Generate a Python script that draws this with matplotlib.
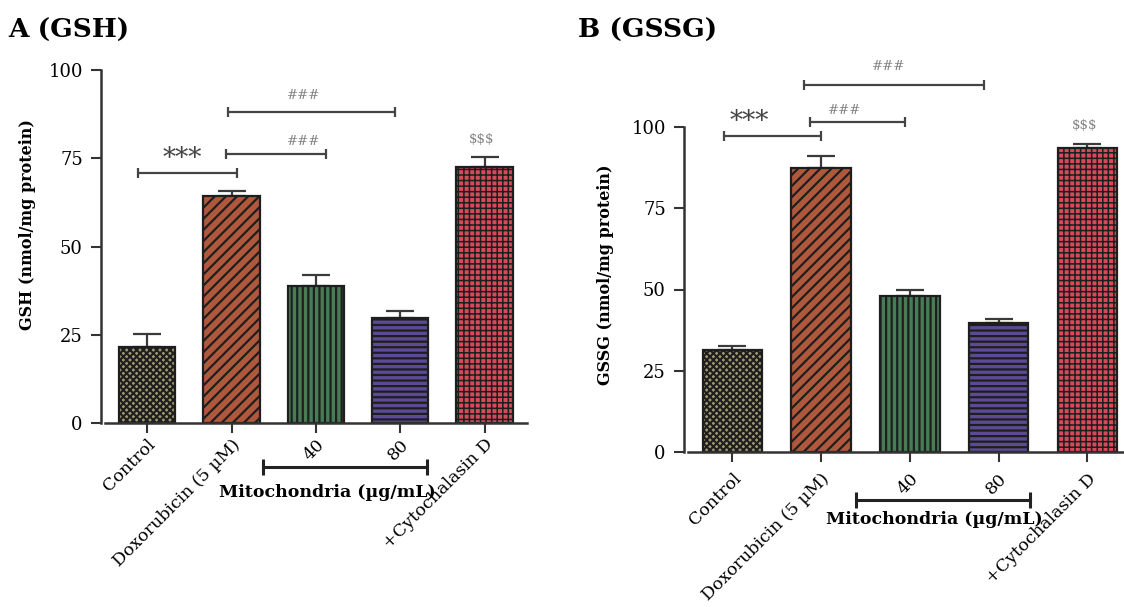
import numpy as np
import matplotlib
matplotlib.use("Agg")
import matplotlib.pyplot as plt
import matplotlib.transforms as mtransforms

plt.rcParams['font.family'] = ['DejaVu Serif']

# -------------------------------
# Data
# -------------------------------
groups = ["Control", "Doxorubicin (5 µM)", "40", "80", "+Cytochalasin D"]
gsh_mean = [21.7, 64.4, 38.9, 29.8, 72.5]
gsh_err = [3.5, 1.4, 3.0, 2.1, 2.8]
gssg_mean = [31.5, 87.4, 48.0, 39.7, 93.5]
gssg_err = [1.1, 3.6, 2.0, 1.3, 1.2]
yticks = [0, 25, 50, 75, 100]

bar_colors = ["#a09870", "#b0583c", "#467d55", "#5c4a94", "#d84a5a"]
hatches = ["xxxxx", "///", "|||", "---", "+++"]
hatch_lw = [1.5, 1.6, 1.6, 1.6, 1.1]
edge = "#1e1e1e"


def bracket(ax, x0, x1, y, cap=7):
    ax.plot([x0, x1], [y, y], color="#444444", lw=1.6, clip_on=False,
            solid_capstyle="butt")
    ax.plot([x0, x1], [y, y], ls="none", marker="|", ms=cap, mew=1.6,
            color="#444444", clip_on=False)


def draw_panel(ax, means, errs, xpad):
    x = np.arange(len(means))
    for i in range(len(means)):
        plt.rcParams['hatch.linewidth'] = hatch_lw[i]
        ax.bar(x[i], means[i], width=0.67, color=bar_colors[i],
               edgecolor=edge, hatch=hatches[i], linewidth=1.6, zorder=2)
    ax.errorbar(x, means, yerr=[np.zeros(len(errs)), errs], fmt="none",
                ecolor="#3a3a3a", elinewidth=1.6, capsize=10, capthick=1.6,
                zorder=1)
    ax.set_xlim(-0.5, 4.5)
    ax.set_ylim(0, 100)
    ax.set_yticks(yticks)
    ax.set_xticks(x)
    ax.set_xticklabels(groups, rotation=45, ha="right",
                       rotation_mode="anchor", fontsize=12.5)
    ax.tick_params(axis="x", length=7, width=1.5, color="#333333",
                   pad=xpad)
    ax.tick_params(axis="y", length=7, width=1.5, color="#333333",
                   labelsize=13, pad=6)
    for s in ["top", "right"]:
        ax.spines[s].set_visible(False)
    for s in ["left", "bottom"]:
        ax.spines[s].set_linewidth(1.8)
        ax.spines[s].set_color("#333333")
    ax.spines["left"].set_position(("outward", 3))


fig = plt.figure(figsize=(11.24, 6.07), dpi=100)
W, H = 1124.0, 607.0

# -------------------------------
# Panel A (GSH)
# -------------------------------
axA = fig.add_axes([105 / W, 1 - 423.3 / H, 421.7 / W, 353.3 / H])
draw_panel(axA, gsh_mean, gsh_err, 2)

bracket(axA, -0.11, 1.07, 70.8)
axA.text(0.42, 71.5, "***", ha="center", va="bottom", fontsize=19,
         color="#444444")
bracket(axA, 0.94, 2.12, 76.2)
axA.text(1.85, 78.0, "###", ha="center", va="bottom", fontsize=9.5,
         color="#808080")
bracket(axA, 0.96, 2.94, 88.1)
axA.text(1.85, 91.0, "###", ha="center", va="bottom", fontsize=9.5,
         color="#808080")
axA.text(3.96, 78.5, "$$$", ha="center", va="bottom", fontsize=9.5,
         color="#808080")

tA = mtransforms.blended_transform_factory(axA.transData, axA.transAxes)
axA.plot([1.37, 3.32], [-0.1245, -0.1245], color="#222222", lw=2.2,
         transform=tA, clip_on=False)
axA.plot([1.37, 3.32], [-0.1245, -0.1245], ls="none", marker="|", ms=11,
         mew=2.2, color="#222222", transform=tA, clip_on=False)
axA.text(2.13, -0.196, "Mitochondria (µg/mL)", transform=tA, ha="center",
         va="center", fontsize=12.5, fontweight="bold")

fig.text(28 / W, 1 - 225 / H, "GSH (nmol/mg protein)", rotation=90,
         ha="center", va="center", fontsize=11.5, fontweight="bold")
fig.text(8 / W, 1 - 30 / H, "A (GSH)", ha="left", va="center",
         fontsize=19, fontweight="bold")

# -------------------------------
# Panel B (GSSG)
# -------------------------------
axB = fig.add_axes([688 / W, 1 - 452 / H, 443.75 / W, 325 / H])
draw_panel(axB, gssg_mean, gssg_err, 6)

bracket(axB, -0.10, 1.0, 97.2)
axB.text(0.19, 97.8, "***", ha="center", va="bottom", fontsize=19,
         color="#444444")
bracket(axB, 0.88, 1.94, 101.6)
axB.text(1.27, 103.0, "###", ha="center", va="bottom", fontsize=9.5,
         color="#808080")
bracket(axB, 0.81, 2.84, 112.9)
axB.text(1.76, 116.5, "###", ha="center", va="bottom", fontsize=9.5,
         color="#808080")
axB.text(3.97, 98.5, "$$$", ha="center", va="bottom", fontsize=9.5,
         color="#808080")

tB = mtransforms.blended_transform_factory(axB.transData, axB.transAxes)
axB.plot([1.39, 3.35], [-0.148, -0.148], color="#222222", lw=2.2,
         transform=tB, clip_on=False)
axB.plot([1.39, 3.35], [-0.148, -0.148], ls="none", marker="|", ms=11,
         mew=2.2, color="#222222", transform=tB, clip_on=False)
axB.text(2.28, -0.207, "Mitochondria (µg/mL)", transform=tB, ha="center",
         va="center", fontsize=12.5, fontweight="bold")

fig.text(606 / W, 1 - 275 / H, "GSSG (nmol/mg protein)", rotation=90,
         ha="center", va="center", fontsize=11.5, fontweight="bold")
fig.text(578 / W, 1 - 30 / H, "B (GSSG)", ha="left", va="center",
         fontsize=19, fontweight="bold")

fig.savefig("out.png", dpi=100)
